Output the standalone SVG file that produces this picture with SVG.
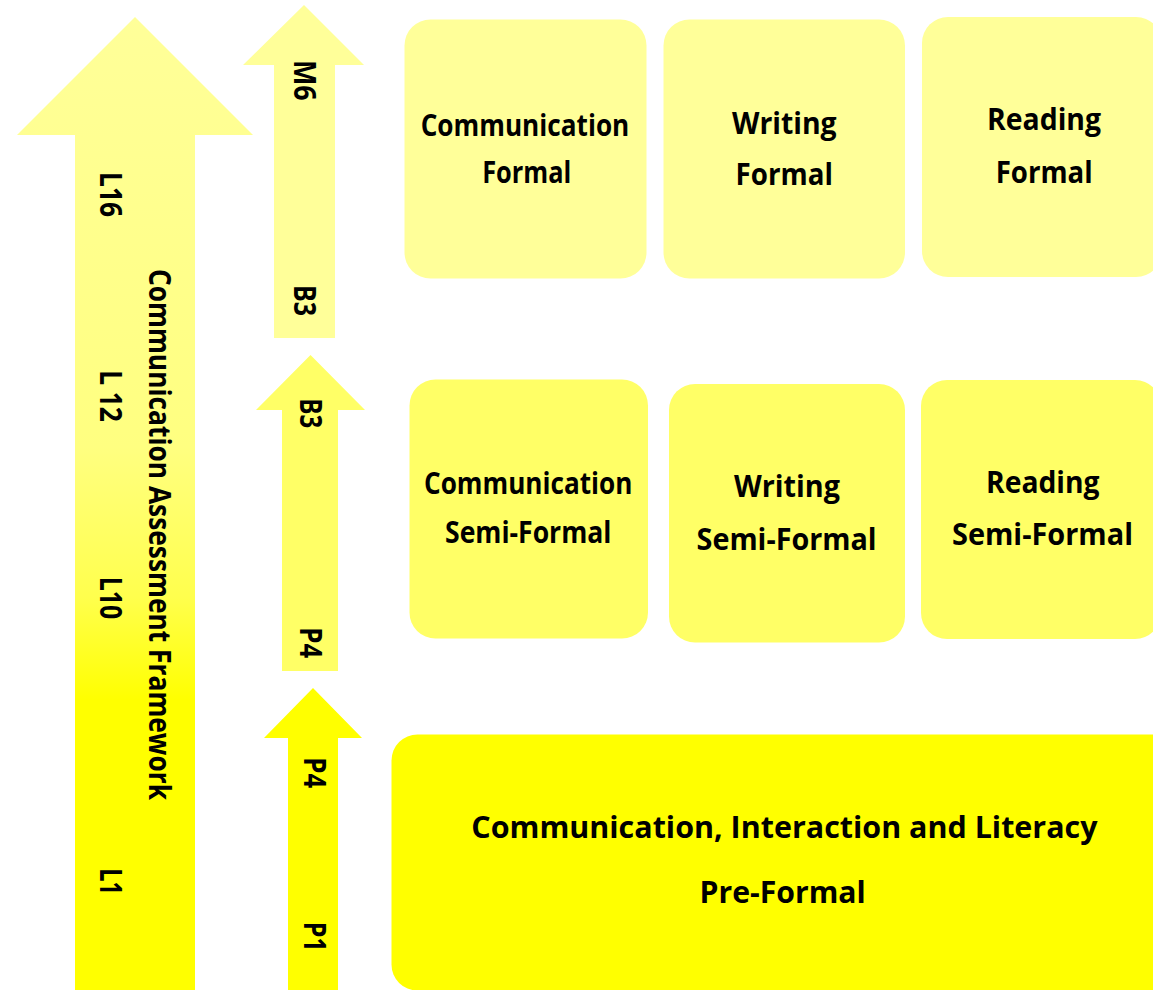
<svg xmlns="http://www.w3.org/2000/svg" width="1153" height="990" viewBox="0 0 1153 990">
<defs>
<linearGradient id="bigGrad" gradientUnits="userSpaceOnUse" x1="0" y1="17" x2="0" y2="700">
<stop offset="0" stop-color="#FFFF99"/>
<stop offset="0.63" stop-color="#FFFF80"/>
<stop offset="0.85" stop-color="#FFFF4D"/>
<stop offset="1" stop-color="#FFFF00"/>
</linearGradient>
<style>
.t{font-family:"Open Sans","Liberation Sans",sans-serif;font-weight:700;fill:#000;text-anchor:middle;}
.bx{font-size:30px;}
.vx{font-size:31px;}
.pale{fill:#FFFF99;}
.mid{fill:#FFFF66;}
.full{fill:#FFFF00;}
</style>
</defs>
<rect width="1153" height="990" fill="#FFFFFF"/>

<g id="arrow-caf">
<polygon points="135,17 253,135 195,135 195,995 75,995 75,135 17,135" fill="url(#bigGrad)"/>
<text class="t vx" transform="translate(100,194.5) rotate(90)" textLength="45" lengthAdjust="spacingAndGlyphs">L16</text>
<text class="t vx" transform="translate(148.5,534.5) rotate(90)" textLength="531" lengthAdjust="spacingAndGlyphs">Communication Assessment Framework</text>
<text class="t vx" transform="translate(100,396) rotate(90)" textLength="51.7" lengthAdjust="spacingAndGlyphs">L 12</text>
<text class="t vx" transform="translate(100,598) rotate(90)" textLength="42.6" lengthAdjust="spacingAndGlyphs">L10</text>
<text class="t vx" transform="translate(100,881.7) rotate(90)" textLength="26.7" lengthAdjust="spacingAndGlyphs">L1</text>
</g>

<g id="arrow-formal">
<polygon class="pale" points="304,5 364,65 335,65 335,338 274,338 274,65 243,65"/>
<text class="t vx" transform="translate(293.5,80.3) rotate(90)" textLength="40.7" lengthAdjust="spacingAndGlyphs">M6</text>
<text class="t vx" transform="translate(293.5,300.5) rotate(90)" textLength="31" lengthAdjust="spacingAndGlyphs">B3</text>
</g>

<g id="arrow-semiformal">
<polygon class="mid" points="310.5,355 365,410 338,410 338,671 282,671 282,410 256,410"/>
<text class="t vx" transform="translate(300,413.3) rotate(90)" textLength="30" lengthAdjust="spacingAndGlyphs">B3</text>
<text class="t vx" transform="translate(300,642.8) rotate(90)" textLength="31" lengthAdjust="spacingAndGlyphs">P4</text>
</g>

<g id="arrow-preformal">
<polygon class="full" points="313,688 362,738 338,738 338,995 288,995 288,738 264,738"/>
<text class="t vx" transform="translate(303.5,772.8) rotate(90)" textLength="31" lengthAdjust="spacingAndGlyphs">P4</text>
<text class="t vx" transform="translate(303.5,936.7) rotate(90)" textLength="30" lengthAdjust="spacingAndGlyphs">P1</text>
</g>

<g id="communication-formal">
<rect class="pale" x="404.5" y="19.5" width="242" height="259" rx="26"/>
<text class="t bx" x="525" y="136" textLength="208.6" lengthAdjust="spacingAndGlyphs">Communication</text>
<text class="t bx" x="526.7" y="182.5" textLength="89" lengthAdjust="spacingAndGlyphs">Formal</text>
</g>

<g id="writing-formal">
<rect class="pale" x="663.5" y="19.5" width="241.5" height="259" rx="26"/>
<text class="t bx" x="784.3" y="134" textLength="104.7" lengthAdjust="spacingAndGlyphs">Writing</text>
<text class="t bx" x="784.2" y="185" textLength="97.3" lengthAdjust="spacingAndGlyphs">Formal</text>
</g>

<g id="reading-formal">
<rect class="pale" x="922" y="17" width="240" height="260" rx="26"/>
<text class="t bx" x="1044" y="130" textLength="114" lengthAdjust="spacingAndGlyphs">Reading</text>
<text class="t bx" x="1044.2" y="183" textLength="97" lengthAdjust="spacingAndGlyphs">Formal</text>
</g>

<g id="communication-semiformal">
<rect class="mid" x="409.5" y="379.5" width="238.5" height="259" rx="26"/>
<text class="t bx" x="528.2" y="494" textLength="208.3" lengthAdjust="spacingAndGlyphs">Communication</text>
<text class="t bx" x="528.2" y="542.7" textLength="166.4" lengthAdjust="spacingAndGlyphs">Semi-Formal</text>
</g>

<g id="writing-semiformal">
<rect class="mid" x="669" y="384" width="236" height="258.5" rx="26"/>
<text class="t bx" x="787" y="496.7" textLength="106" lengthAdjust="spacingAndGlyphs">Writing</text>
<text class="t bx" x="786.6" y="550" textLength="180" lengthAdjust="spacingAndGlyphs">Semi-Formal</text>
</g>

<g id="reading-semiformal">
<rect class="mid" x="921" y="380" width="240" height="259" rx="26"/>
<text class="t bx" x="1042.8" y="492.7" textLength="113.5" lengthAdjust="spacingAndGlyphs">Reading</text>
<text class="t bx" x="1042.5" y="545" textLength="181" lengthAdjust="spacingAndGlyphs">Semi-Formal</text>
</g>

<g id="cil-preformal">
<rect class="full" x="391.5" y="734.5" width="800" height="256" rx="26"/>
<text class="t bx" x="784.4" y="838.3" textLength="626.3" lengthAdjust="spacingAndGlyphs">Communication, Interaction and Literacy</text>
<text class="t bx" x="782.6" y="902.7" textLength="166.2" lengthAdjust="spacingAndGlyphs">Pre-Formal</text>
</g>

<g id="connectors"></g>
</svg>
